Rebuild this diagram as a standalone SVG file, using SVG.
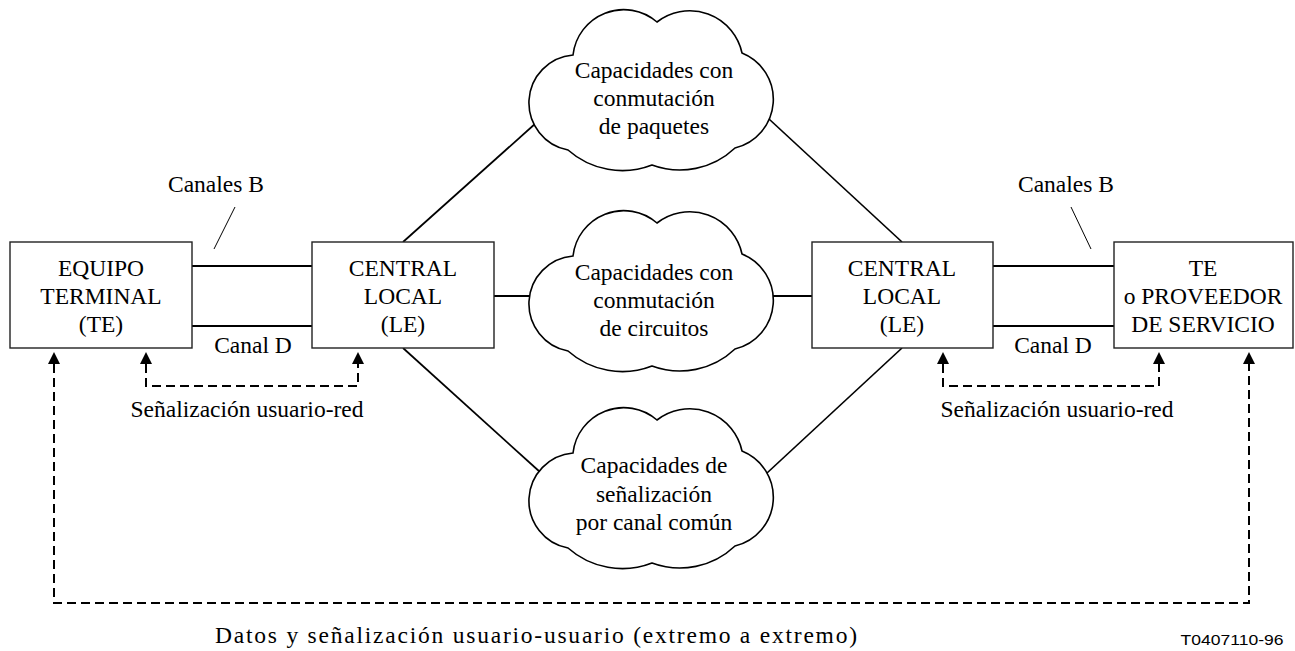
<svg xmlns="http://www.w3.org/2000/svg" width="1295" height="651" viewBox="0 0 1295 651" font-family="Liberation Serif, Tinos, Noto Serif, DejaVu Serif, FreeSerif, serif">
<style>
text{font-size:23.5px;fill:#000;text-anchor:middle}
.box{fill:#fff;stroke:#222;stroke-width:1.4}
.cloud{fill:#fff;stroke:#000;stroke-width:1.6}
.ln{stroke:#000;stroke-width:2;fill:none}
.dg{stroke:#000;stroke-width:1.7;fill:none}
.tk{stroke:#000;stroke-width:1;fill:none}
.ds{stroke:#000;stroke-width:2;fill:none;stroke-dasharray:9 5}
text.lbl{font-size:15px}
</style>
<defs>
<path id="cl" d="M573,55 A51,51 0 0 1 657,22 A53.5,53.5 0 0 1 742,53 A50,50 0 0 1 735,148 A80,80 0 0 1 652,165 A82,82 0 0 1 568,150 A48,48 0 0 1 573,55 Z"/>
</defs>
<g id="connectors">
<line class="dg" x1="403" y1="242" x2="536" y2="123"/>
<line class="dg" x1="902" y1="242" x2="769" y2="119"/>
<line class="dg" x1="403" y1="348" x2="540" y2="472"/>
<line class="dg" x1="902" y1="348" x2="767" y2="473"/>
<line class="ln" x1="494" y1="296" x2="531" y2="296"/>
<line class="ln" x1="773" y1="296" x2="812" y2="296"/>
<line class="ln" x1="192" y1="266" x2="312" y2="266"/>
<line class="ln" x1="192" y1="326" x2="312" y2="326"/>
<line class="ln" x1="993" y1="266" x2="1114" y2="266"/>
<line class="ln" x1="993" y1="326" x2="1114" y2="326"/>
<line class="tk" x1="235" y1="207" x2="214" y2="249"/>
<line class="tk" x1="1071" y1="207" x2="1091" y2="249"/>
<path class="ds" d="M146,364 V386 H358 V364"/>
<path class="ds" d="M943,364 V386 H1159 V364"/>
<path class="ds" d="M54,364 V603 H1249 V364"/>
<g fill="#000">
<path d="M146,352 L140,364 L152,364 Z"/>
<path d="M358,352 L352,364 L364,364 Z"/>
<path d="M943,352 L937,364 L949,364 Z"/>
<path d="M1159,352 L1153,364 L1165,364 Z"/>
<path d="M54,352 L48,364 L60,364 Z"/>
<path d="M1249,352 L1243,364 L1255,364 Z"/>
</g>
<text x="216" y="192">Canales B</text>
<text x="1066" y="192">Canales B</text>
<text x="253" y="353">Canal D</text>
<text x="1053" y="353">Canal D</text>
<text x="247" y="417">Señalización usuario-red</text>
<text x="1057" y="417">Señalización usuario-red</text>
<text x="536" y="643" textLength="642" lengthAdjust="spacing">Datos y señalización usuario-usuario (extremo a extremo)</text>
<text class="lbl" x="1232" y="645" font-family="Liberation Sans, Arimo, Arial, sans-serif" textLength="103" lengthAdjust="spacingAndGlyphs">T0407110-96</text>
</g>
<g id="cloud-packet">
<use href="#cl" class="cloud"/>
<text x="654" y="78">Capacidades con</text>
<text x="654" y="106">conmutación</text>
<text x="654" y="134">de paquetes</text>
</g>
<g id="cloud-circuit">
<use href="#cl" class="cloud" transform="translate(0,201)"/>
<text x="654" y="280">Capacidades con</text>
<text x="654" y="308">conmutación</text>
<text x="654" y="336">de circuitos</text>
</g>
<g id="cloud-ccs">
<use href="#cl" class="cloud" transform="translate(0,398)"/>
<text x="654" y="473">Capacidades de</text>
<text x="654" y="502">señalización</text>
<text x="654" y="530">por canal común</text>
</g>
<g id="te">
<rect class="box" x="10" y="242" width="182" height="106"/>
<text x="101" y="276">EQUIPO</text>
<text x="101" y="304">TERMINAL</text>
<text x="101" y="332">(TE)</text>
</g>
<g id="le-left">
<rect class="box" x="312" y="242" width="182" height="106"/>
<text x="403" y="276">CENTRAL</text>
<text x="403" y="304">LOCAL</text>
<text x="403" y="332">(LE)</text>
</g>
<g id="le-right">
<rect class="box" x="812" y="242" width="181" height="106"/>
<text x="902" y="276">CENTRAL</text>
<text x="902" y="304">LOCAL</text>
<text x="902" y="332">(LE)</text>
</g>
<g id="te-provider">
<rect class="box" x="1114" y="242" width="179" height="106"/>
<text x="1203" y="276">TE</text>
<text x="1203" y="304">o PROVEEDOR</text>
<text x="1203" y="332">DE SERVICIO</text>
</g>
</svg>
